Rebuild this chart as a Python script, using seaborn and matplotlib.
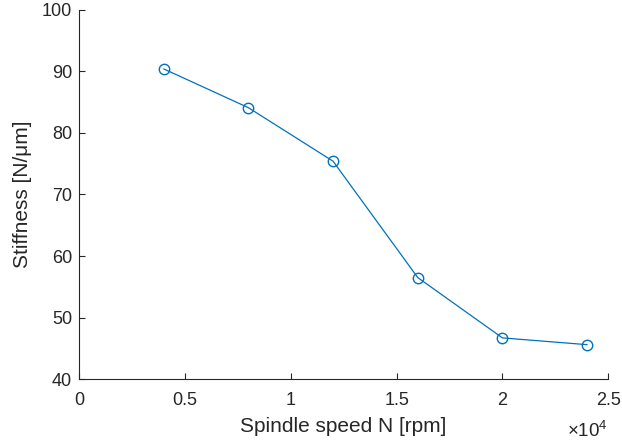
import numpy as np
import pandas as pd
import matplotlib
matplotlib.use("Agg")
import matplotlib.pyplot as plt
import seaborn as sns
from matplotlib.ticker import FuncFormatter

# data
speed_rpm = [4000, 8000, 12000, 16000, 20000, 24000]
stiffness = [90.4, 84.1, 75.4, 56.5, 46.7, 45.6]

df = pd.DataFrame({"speed": speed_rpm, "stiffness": stiffness})

sns.set_theme(style="ticks")
plt.rcParams["font.family"] = ["Liberation Sans", "DejaVu Sans"]
plt.rcParams["mathtext.fontset"] = "custom"
plt.rcParams["mathtext.rm"] = "Liberation Sans"

blue = "#0072BD"
dark = "#262626"

fig = plt.figure(figsize=(6.22, 4.45), dpi=100)
ax = fig.add_axes([0.127, 0.148, 0.851, 0.830])

sns.lineplot(
    data=df, x="speed", y="stiffness", ax=ax,
    color=blue, linewidth=0.9, marker="o", markersize=7.5,
    markerfacecolor="none", markeredgecolor=blue, markeredgewidth=1.0,
)

ax.set_xlim(0, 25000)
ax.set_ylim(40, 100)
ax.set_xticks([0, 5000, 10000, 15000, 20000, 25000])
ax.set_yticks([40, 50, 60, 70, 80, 90, 100])
ax.xaxis.set_major_formatter(FuncFormatter(lambda v, p: f"{v / 1e4:g}"))

ax.set_xlabel("Spindle speed N [rpm]", fontsize=15, color=dark, labelpad=6)
ax.set_ylabel("Stiffness [N/\u03bcm]", fontsize=15, color=dark, labelpad=7)

ax.tick_params(direction="in", length=4, width=0.8, colors=dark,
               labelsize=13)
ax.tick_params(axis="x", pad=9)
ax.tick_params(axis="y", pad=5)
for side in ["top", "right"]:
    ax.spines[side].set_visible(False)
for side in ["left", "bottom"]:
    ax.spines[side].set_color(dark)
    ax.spines[side].set_linewidth(0.8)

fig.text(0.978, 0.018, r"$\mathregular{\times10^{4}}$",
         ha="right", va="baseline", fontsize=13.5, color=dark)

fig.savefig("out.png", dpi=100)
